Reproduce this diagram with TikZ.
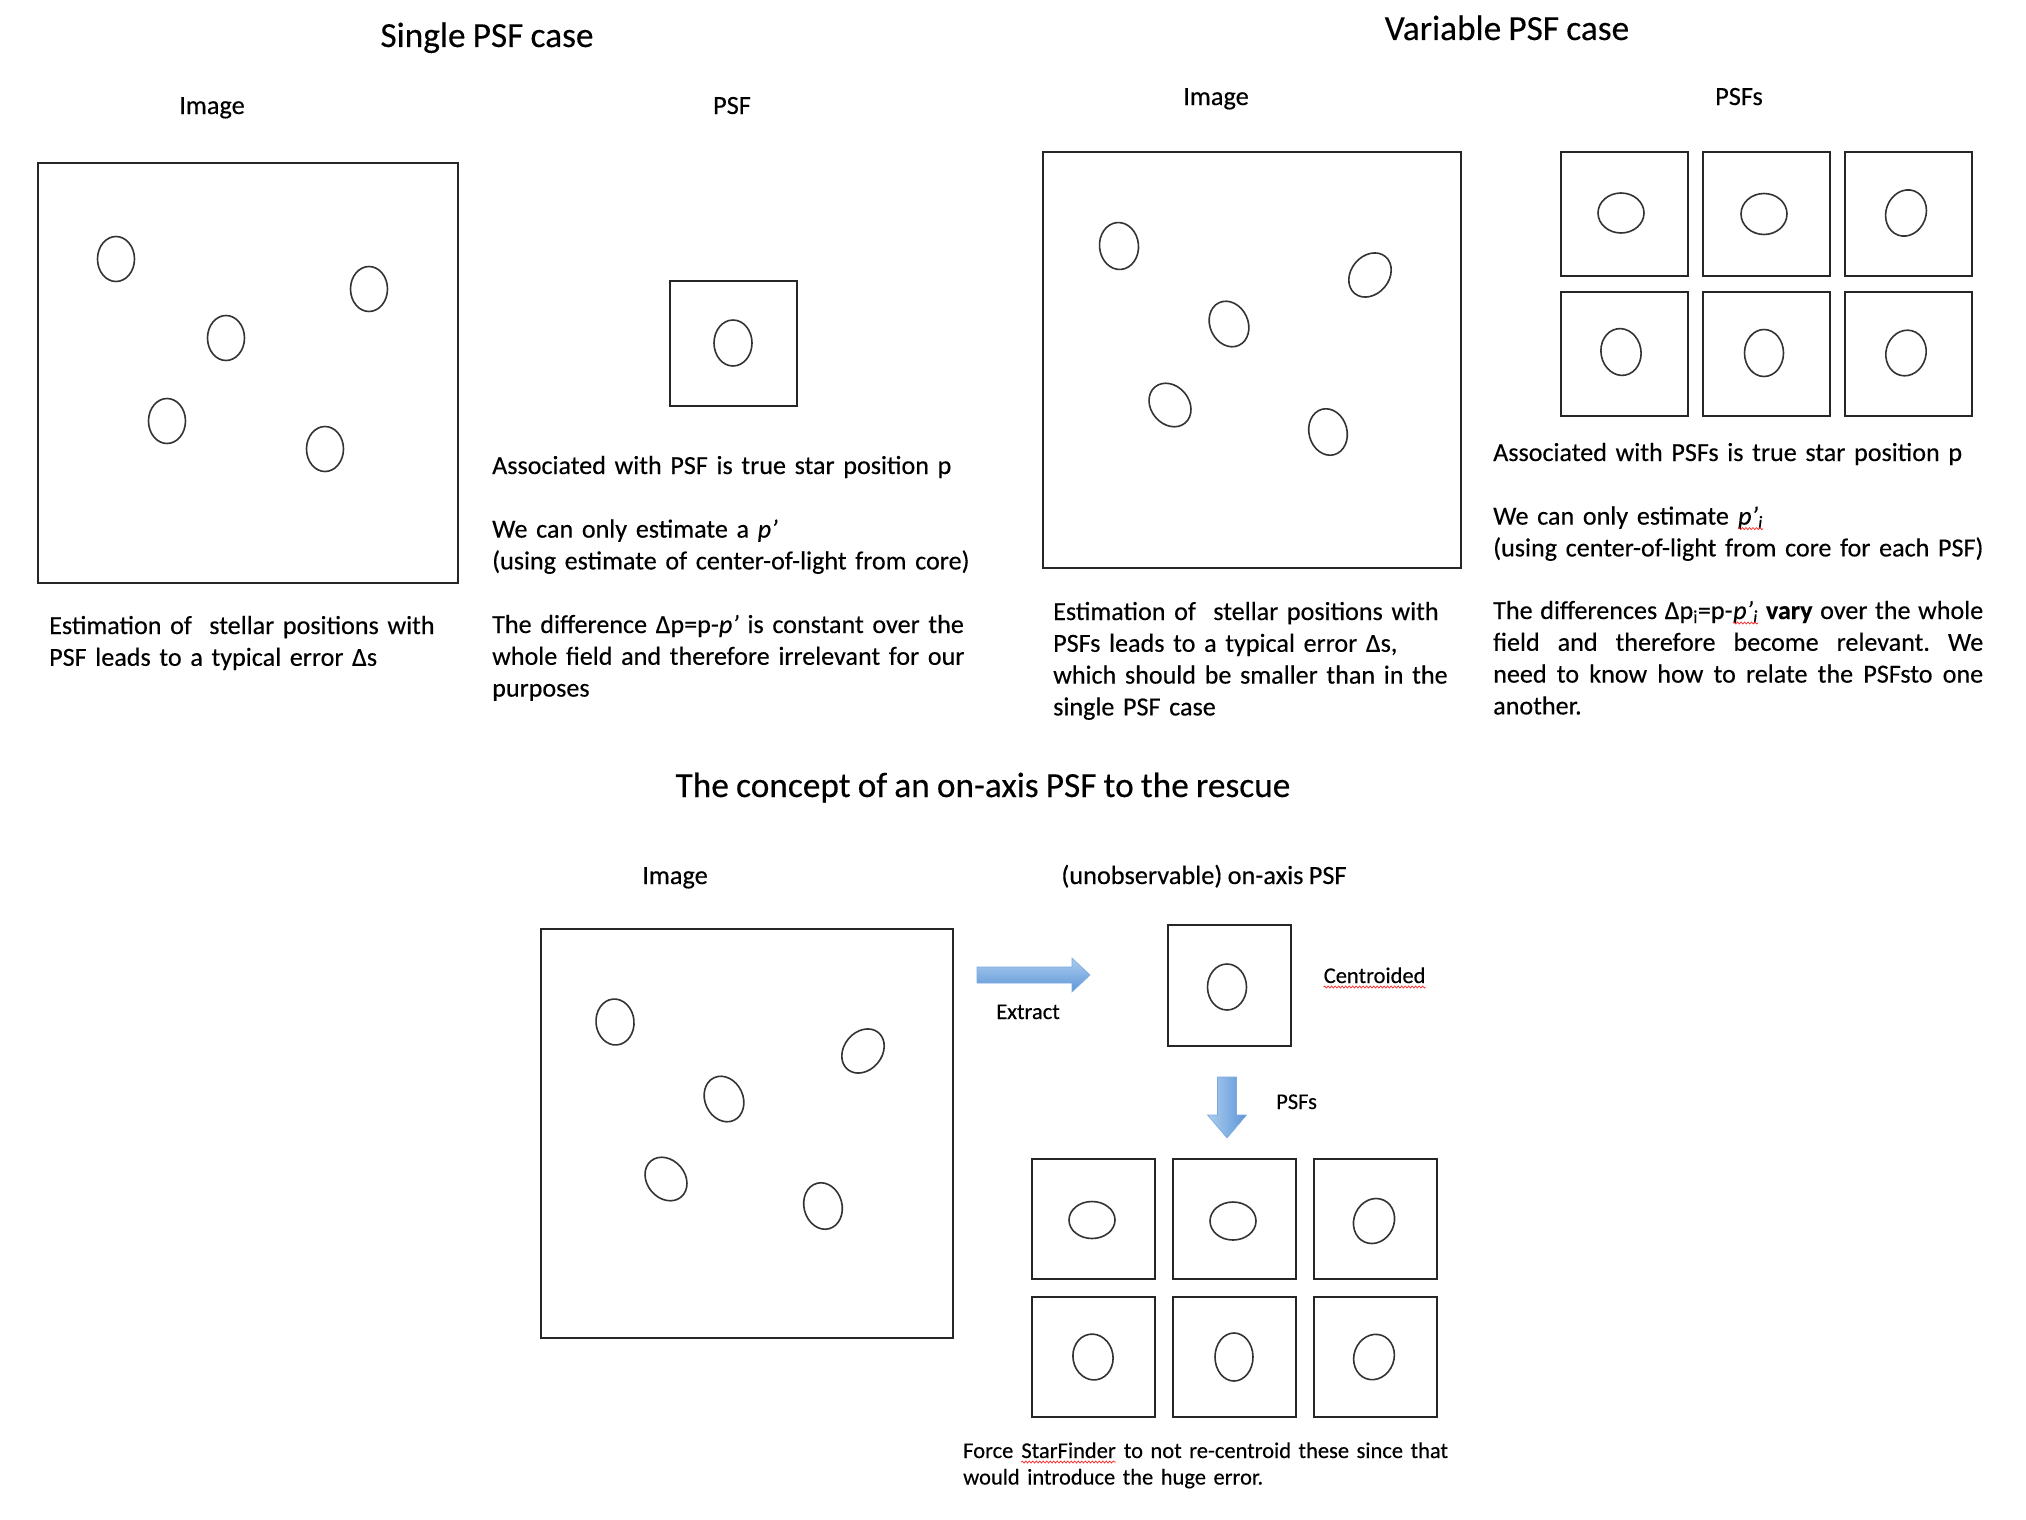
\documentclass[tikz,border=0pt]{standalone}
\usepackage{fontspec}
\setmainfont{Carlito}[WordSpace=0.9,FakeBold=0.3]
\usetikzlibrary{calc,decorations.pathmorphing}
\definecolor{arrlight}{HTML}{ABCDF0}
\definecolor{arrdark}{HTML}{5D95D6}
\frenchspacing
% red spell-check wave, as in the slide
\newcommand\spellerr[1]{\tikz[baseline=(w.base)]{\node[inner sep=0pt] (w) {#1};
  \draw[red!85,line width=.7pt,decorate,decoration={snake,amplitude=1pt,segment length=3.5pt}]
  ([yshift=-4pt]w.base west) -- ([yshift=-4pt]w.base east);}}
\newcommand\starat[4]{\draw[star,rotate around={#4:#1}] #1 ellipse[x radius=#2,y radius=#3];}
\begin{document}
\begin{tikzpicture}[x=1pt,y=-1pt,
frame/.style={draw=black!85,line width=1.8pt,inner sep=0pt,anchor=north west},
psfbox/.style={frame,minimum width=127,minimum height=124},
star/.style={draw=black!80,line width=1.6pt},
title/.style={font=\fontsize{35.3}{42}\selectfont,anchor=base,inner sep=0pt},
lab/.style={font=\fontsize{26.3}{32}\selectfont,anchor=base,inner sep=0pt},
body/.style={font=\fontsize{26.1}{31.8}\selectfont,align=left,anchor=base west,inner sep=0pt},
note/.style={font=\fontsize{22.5}{26.5}\selectfont,align=left,anchor=base west,inner sep=0pt}]
\fill[white] (0,0) rectangle (2026,1520);
\useasboundingbox (0,0) rectangle (2026,1520);

% single PSF case
\node[title] (t1) at (487,47) {Single PSF case};
\node[lab] (im1) at (212,114) {Image};
\node[lab] (ps1) at (732,114) {PSF};
\node[frame,minimum width=420,minimum height=420] (img1) at (37,162) {};
\node[frame,minimum width=127,minimum height=125] (psf1) at (669,280) {};
\starat{(116,259)}{18.5}{22.5}{0} \starat{(369,289)}{18.5}{22.5}{0}
\starat{(226,338)}{18.5}{22.5}{0} \starat{(167,421)}{18.5}{22.5}{0}
\starat{(325,449)}{18.5}{22.5}{0}
\starat{(733,343)}{19}{23}{0}
\node[body,text width=500] (txt1) at (492,474) {Associated with PSF is true star position p\\[31.8pt]
We can only estimate a \textit{p’}\\
(using estimate of center-of-light from core)\\[31.8pt]
The difference Δp=p-\textit{p’} is constant over the\\
whole field and therefore irrelevant for our\\
purposes};
\node[body,text width=420] (est1) at (49,634) {Estimation of \ stellar positions with\\
PSF leads to a typical error Δs};

% variable PSF case
\node[title] (t2) at (1507,40) {Variable PSF case};
\node[lab] (im2) at (1216,105) {Image};
\node[lab] (ps2) at (1739,105) {PSFs};
\node[frame,minimum width=418,minimum height=416] (img2) at (1042,151) {};
\node[psfbox] (v11) at (1560,151) {}; \node[psfbox] (v12) at (1702,151) {}; \node[psfbox] (v13) at (1844,151) {};
\node[psfbox] (v21) at (1560,291) {}; \node[psfbox] (v22) at (1702,291) {}; \node[psfbox] (v23) at (1844,291) {};
\starat{(1119,246)}{19.5}{23.5}{5} \starat{(1370,275)}{19}{24}{-40}
\starat{(1229,324)}{19}{23.5}{25} \starat{(1170,405)}{19}{23.5}{40}
\starat{(1328,432)}{19}{23.5}{15}
\starat{(1621,213)}{23}{20}{0} \starat{(1764,214)}{23}{20.5}{0} \starat{(1906,213)}{20}{23.5}{-20}
\starat{(1621,352)}{20}{23.5}{10} \starat{(1764,353)}{19.5}{23.5}{0} \starat{(1906,353)}{20}{23}{-15}
\node[body,text width=500] (txt2) at (1493,461) {Associated with PSFs is true star position p\\[31.8pt]
We can only estimate \spellerr{\textit{p’\textsubscript{i}}}\\
(using center-of-light from core for each PSF)};
\node[body,text width=490,align=justify] (diff2) at (1493,619) {The differences Δp\textsubscript{i}=p-\spellerr{\textit{p’\textsubscript{i}}} \textbf{vary} over the whole\linebreak
field and therefore become relevant. We\linebreak
need to know how to relate the PSFsto one\linebreak
another.};
\node[body,text width=430] (est2) at (1053,620) {Estimation of \ stellar positions with\\
PSFs leads to a typical error Δs,\\
which should be smaller than in the\\
single PSF case};

% on-axis PSF
\node[title] (t3) at (983,797) {The concept of an on-axis PSF to the rescue};
\node[lab] (im3) at (675,884) {Image};
\node[lab] (ax3) at (1204,884) {(unobservable) on-axis PSF};
\node[frame,minimum width=412,minimum height=409] (img3) at (540,928) {};
\node[frame,minimum width=123,minimum height=121] (axis) at (1167,924) {};
\node[psfbox,minimum width=123,minimum height=120] (b11) at (1031,1158) {};
\node[psfbox,minimum width=123,minimum height=120] (b12) at (1172,1158) {};
\node[psfbox,minimum width=123,minimum height=120] (b13) at (1313,1158) {};
\node[psfbox,minimum width=123,minimum height=120] (b21) at (1031,1296) {};
\node[psfbox,minimum width=123,minimum height=120] (b22) at (1172,1296) {};
\node[psfbox,minimum width=123,minimum height=120] (b23) at (1313,1296) {};
\starat{(615,1022)}{19}{23}{5} \starat{(863,1051)}{19}{24}{-40}
\starat{(724,1099)}{19}{23.5}{25} \starat{(666,1179)}{19}{23.5}{40}
\starat{(823,1206)}{19}{23.5}{15}
\starat{(1227,987)}{19.5}{23}{0}
\starat{(1092,1220)}{23}{18.5}{0} \starat{(1233,1221)}{23}{19}{0} \starat{(1374,1221)}{20}{23}{-25}
\starat{(1093,1357)}{20}{23}{10} \starat{(1234,1357)}{19}{24}{0} \starat{(1374,1357)}{20}{23}{-20}
\coordinate (ex0) at (977,975); \coordinate (ex1) at (1090,975);
\shade[top color=arrlight,bottom color=arrdark,draw=arrdark!80,line width=.6pt]
  (ex0) ++(0,-8) -- ++(95,0) -- ++(0,-9) -- (ex1) -- ++(-18,17) -- ++(0,-9) -- ++(-95,0) -- cycle;
\coordinate (dn0) at (1227,1077); \coordinate (dn1) at (1227,1138);
\shade[left color=arrlight,right color=arrdark,draw=arrdark!80,line width=.6pt]
  (dn0) ++(-9.5,0) -- ++(0,38) -- ++(-10,0) -- (dn1) -- ++(19.5,-23) -- ++(-10,0) -- ++(0,-38) -- cycle;
\node[note,anchor=base] (ext) at (1028,1019) {Extract};
\node[note] (cen) at (1323,983) {\spellerr{Centroided}};
\node[note] (psfs) at (1276,1109) {PSFs};
\node[note,text width=520] (force) at (963,1458) {Force \spellerr{StarFinder} to not re-centroid these since that\\
would introduce the huge error.};
\end{tikzpicture}
\end{document}
